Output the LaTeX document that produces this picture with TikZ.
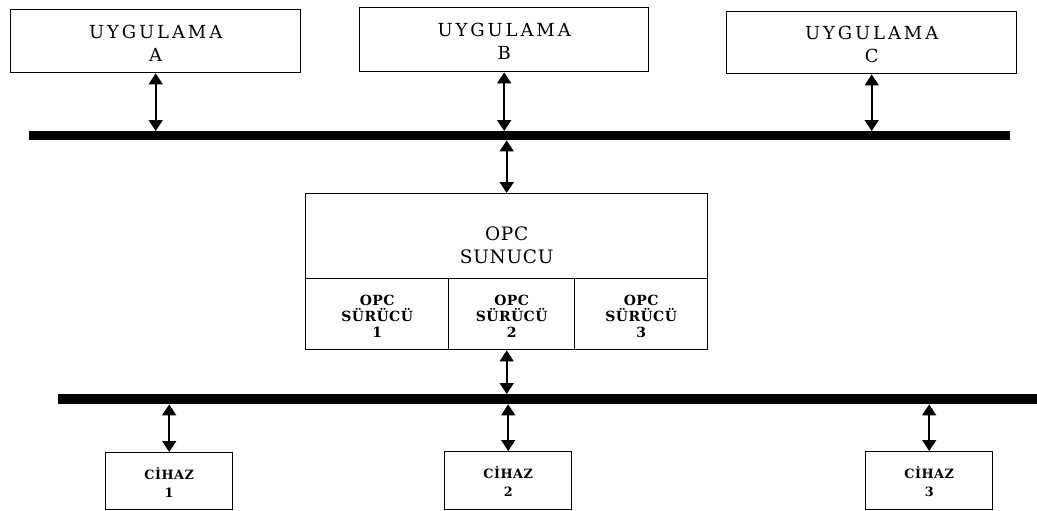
\documentclass[tikz,border=0pt]{standalone}
\usepackage{fontspec}
\usetikzlibrary{arrows.meta}
% serif faces, letter-spaced per label size
\newfontfamily\appfont[LetterSpace=16]{DejaVu Serif}
\newfontfamily\srvfont[LetterSpace=4]{DejaVu Serif}
\newfontfamily\drvfont[LetterSpace=3]{DejaVu Serif Bold}
\newfontfamily\devfont[LetterSpace=4]{DejaVu Serif Bold}

\begin{document}
\begin{tikzpicture}[x=1pt,y=-1pt,
  box/.style={draw, line width=1.4pt, inner sep=0pt, anchor=north west, fill=white},
  lbl/.style={align=center, inner sep=0pt},
  applbl/.style={lbl, font=\appfont\fontsize{18}{23}\selectfont},
  srvlbl/.style={lbl, font=\srvfont\fontsize{18.5}{23}\selectfont},
  drvlbl/.style={lbl, font=\drvfont\fontsize{14}{16}\selectfont},
  devlbl/.style={lbl, font=\devfont\fontsize{12.8}{18}\selectfont},
  bus/.style={fill=black, inner sep=0pt, anchor=north west},
  link/.style={line width=1.6pt,
    {Triangle[width=14pt,length=11pt]}-{Triangle[width=14pt,length=11pt]}}]
\useasboundingbox (0,0) rectangle (1037,511);

% application boxes
\node[box, minimum width=290pt, minimum height=63pt] (appA) at (10,9) {};
\node[box, minimum width=289pt, minimum height=64pt] (appB) at (359,7) {};
\node[box, minimum width=290pt, minimum height=62pt] (appC) at (726,11) {};
\node[applbl] (appAtxt) at ([yshift=-2pt]appA.center) {UYGULAMA\\A};
\node[applbl] (appBtxt) at ([yshift=-2pt]appB.center) {UYGULAMA\\B};
\node[applbl] (appCtxt) at ([yshift=-2pt]appC.center) {UYGULAMA\\C};

% upper bus
\node[bus, minimum width=981pt, minimum height=9pt] (busTop) at (29,131) {};

% OPC server with its three drivers
\node[box, minimum width=402pt, minimum height=85pt] (srv) at (305,193) {};
\node[srvlbl] (srvtxt) at ([yshift=-9.5pt]srv.center) {OPC\\SUNUCU};
\node[box, minimum width=143pt, minimum height=71pt] (drv1) at (305,278) {};
\node[box, minimum width=126pt, minimum height=71pt] (drv2) at (448,278) {};
\node[box, minimum width=133pt, minimum height=71pt] (drv3) at (574,278) {};
\node[drvlbl] (drv1txt) at ([yshift=-2.5pt]drv1.center) {OPC\\SÜRÜCÜ\\1};
\node[drvlbl] (drv2txt) at ([yshift=-2.5pt]drv2.center) {OPC\\SÜRÜCÜ\\2};
\node[drvlbl] (drv3txt) at ([yshift=-2.5pt]drv3.center) {OPC\\SÜRÜCÜ\\3};

% lower bus
\node[bus, minimum width=979pt, minimum height=10pt] (busBot) at (58,394) {};

% devices
\node[box, minimum width=127pt, minimum height=57pt] (dev1) at (105,452) {};
\node[box, minimum width=127pt, minimum height=58pt] (dev2) at (444,451) {};
\node[box, minimum width=127pt, minimum height=58pt] (dev3) at (865,451) {};
\node[devlbl] (dev1txt) at ([yshift=-1pt]dev1.center) {CİHAZ\\1};
\node[devlbl] (dev2txt) at ([yshift=-1pt]dev2.center) {CİHAZ\\2};
\node[devlbl] (dev3txt) at ([yshift=-1pt]dev3.center) {CİHAZ\\3};

% bidirectional links
\draw[link] (appA.south) -- (appA.south |- busTop.north);
\draw[link] (appB.south) -- (appB.south |- busTop.north);
\draw[link] (appC.south) -- (appC.south |- busTop.north);
\draw[link] (srv.north |- busTop.south) -- (srv.north);
\draw[link] (drv2.south -| srv.north) -- (busBot.north -| srv.north);
\draw[link] (busBot.south -| dev1.north) -- (dev1.north);
\draw[link] (busBot.south -| dev2.north) -- (dev2.north);
\draw[link] (busBot.south -| dev3.north) -- (dev3.north);
\end{tikzpicture}
\end{document}
